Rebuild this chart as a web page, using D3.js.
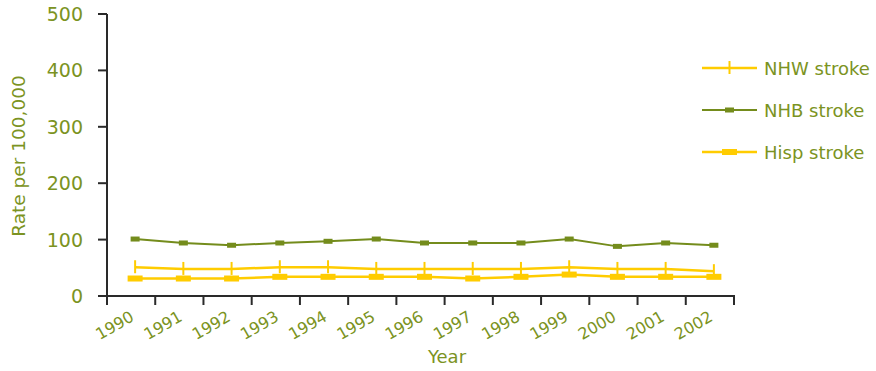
<!DOCTYPE html>
<html>
<head>
<meta charset="utf-8">
<script src="https://cdn.jsdelivr.net/npm/d3@7"></script>
<style>
  body { margin: 0; background: #fff; }
  svg { display: block; font-family: "DejaVu Sans", sans-serif; }
</style>
</head>
<body>
<div id="chart"></div>
<script>
// data
var years = ["1990", "1991", "1992", "1993", "1994", "1995", "1996", "1997", "1998", "1999", "2000", "2001", "2002"];
var nhwStroke = [51, 48, 48, 51, 51, 48, 48, 48, 48, 51, 48, 48, 44];
var nhbStroke = [101, 94, 90, 94, 97, 101, 94, 94, 94, 101, 88, 94, 90];
var hispStroke = [31, 31, 31, 34, 34, 34, 34, 31, 34, 38, 34, 34, 34];
var yTicks = [0, 100, 200, 300, 400, 500];

var width = 876, height = 371;
var olive = "#7b9322";
var oliveLine = "#748c1c";
var yellow = "#ffcc00";
var axisCol = "#2a2a2a";

var series = [
  {name: "NHW stroke", values: nhwStroke, color: yellow, marker: "plus"},
  {name: "NHB stroke", values: nhbStroke, color: oliveLine, marker: "small"},
  {name: "Hisp stroke", values: hispStroke, color: yellow, marker: "big"}
];

var svg = d3.select("#chart").append("svg")
  .attr("width", width)
  .attr("height", height);

var x = d3.scaleBand().domain(years).range([107, 734]);
var y = d3.scaleLinear().domain([0, 500]).range([296, 14]);

// points sit a little right of the band centre in the original
function px(i) {
  return x(years[i]) + x.bandwidth() / 2 + 4;
}

// y axis
svg.append("line")
  .attr("x1", 107).attr("x2", 107)
  .attr("y1", y(500)).attr("y2", y(0) + 9)
  .attr("stroke", axisCol).attr("stroke-width", 2);

svg.selectAll(".ytick").data(yTicks).enter().append("line")
  .attr("x1", 98).attr("x2", 107)
  .attr("y1", function (d) { return y(d); })
  .attr("y2", function (d) { return y(d); })
  .attr("stroke", axisCol).attr("stroke-width", 2);

svg.selectAll(".ylab").data(yTicks).enter().append("text")
  .attr("x", 83)
  .attr("y", function (d) { return y(d) + 7; })
  .attr("text-anchor", "end")
  .attr("font-size", "19px")
  .attr("fill", olive)
  .text(function (d) { return d; });

// x axis
svg.append("line")
  .attr("x1", 98).attr("x2", 735)
  .attr("y1", y(0)).attr("y2", y(0))
  .attr("stroke", axisCol).attr("stroke-width", 2);

var xTickPos = years.map(function (d) { return x(d); }).concat([x.range()[1]]);
svg.selectAll(".xtick").data(xTickPos).enter().append("line")
  .attr("x1", function (d) { return d; })
  .attr("x2", function (d) { return d; })
  .attr("y1", y(0)).attr("y2", y(0) + 9)
  .attr("stroke", axisCol).attr("stroke-width", 2);

svg.selectAll(".xlab").data(years).enter().append("text")
  .attr("transform", function (d, i) {
    return "translate(" + px(i) + "," + 320 + ") rotate(-30)";
  })
  .attr("text-anchor", "end")
  .attr("font-size", "16px")
  .attr("fill", olive)
  .text(function (d) { return d; });

// axis titles
svg.append("text")
  .attr("x", 447).attr("y", 363)
  .attr("text-anchor", "middle")
  .attr("font-size", "18px")
  .attr("fill", olive)
  .text("Year");

svg.append("text")
  .attr("transform", "translate(25,156) rotate(-90)")
  .attr("text-anchor", "middle")
  .attr("font-size", "18.5px")
  .attr("fill", olive)
  .text("Rate per 100,000");

// markers
function drawMarker(g, s, cx, cy) {
  if (s.marker === "plus") {
    g.append("line")
      .attr("x1", cx).attr("x2", cx)
      .attr("y1", cy - 7).attr("y2", cy + 6)
      .attr("stroke", s.color).attr("stroke-width", 2);
  } else if (s.marker === "small") {
    g.append("rect")
      .attr("x", cx - 4.5).attr("y", cy - 2.5)
      .attr("width", 9).attr("height", 5)
      .attr("fill", s.color);
  } else {
    g.append("rect")
      .attr("x", cx - 7.5).attr("y", cy - 3)
      .attr("width", 15).attr("height", 6)
      .attr("fill", s.color);
  }
}

var line = d3.line()
  .x(function (d, i) { return px(i); })
  .y(function (d) { return y(d); });

series.forEach(function (s) {
  var g = svg.append("g");
  g.append("path")
    .attr("d", line(s.values))
    .attr("fill", "none")
    .attr("stroke", s.color)
    .attr("stroke-width", s.color === yellow ? 2.5 : 2);
  s.values.forEach(function (v, i) {
    drawMarker(g, s, px(i), y(v));
  });
});

// legend
var legendY = d3.scalePoint().domain(series.map(function (s) { return s.name; })).range([68, 152]);
series.forEach(function (s) {
  var ly = legendY(s.name);
  var g = svg.append("g");
  g.append("line")
    .attr("x1", 702).attr("x2", 757)
    .attr("y1", ly).attr("y2", ly)
    .attr("stroke", s.color)
    .attr("stroke-width", s.color === yellow ? 2.5 : 2);
  drawMarker(g, s, 729.5, ly);
  g.append("text")
    .attr("x", 764).attr("y", ly + 7)
    .attr("font-size", "18px")
    .attr("fill", olive)
    .text(s.name);
});
</script>
</body>
</html>
